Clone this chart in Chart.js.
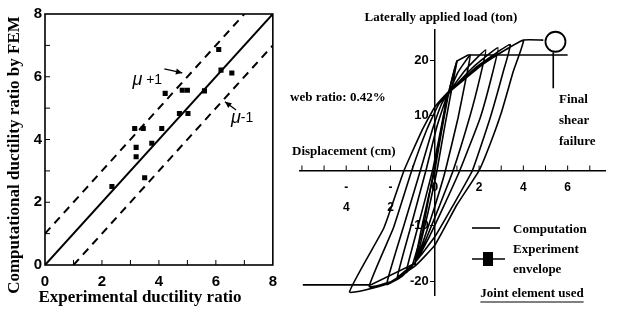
<!DOCTYPE html>
<html>
<head>
<meta charset="utf-8">
<script src="https://cdn.jsdelivr.net/npm/chart.js@4.4.1/dist/chart.umd.min.js"></script>
<style>
  body { margin: 0; background: #fff; }
  #wrap { position: relative; width: 617px; height: 315px; }
  canvas { position: absolute; top: 0; }
  #ductility { left: 0; }
  #hysteresis { left: 285px; }
</style>
</head>
<body>
<div id="wrap">
  <canvas id="ductility" width="285" height="315"></canvas>
  <canvas id="hysteresis" width="332" height="315"></canvas>
</div>
<script>
// ---------- left panel: experimental vs computed ductility ----------
const expRatio = [2.35, 3.15, 3.45, 3.2, 3.2, 4.1, 3.75, 3.5, 4.22, 4.82, 5.0, 4.72, 5.02, 5.6, 6.1, 6.18, 6.56];
const femRatio = [2.5, 4.35, 4.35, 3.45, 3.75, 4.35, 3.88, 2.78, 5.47, 5.57, 5.57, 4.83, 4.83, 5.55, 6.87, 6.21, 6.12];
const fitX = [0, 8], fitY = [0, 8];
const upperX = [0, 7], upperY = [1, 8];
const lowerX = [1, 8], lowerY = [0, 7];
const ductTicks = [0, 2, 4, 6, 8];
const ductMinor = [1, 2, 3, 4, 5, 6, 7];

// ---------- right panel: load-displacement loops ----------
const dispComp = [
  0, 0.3, 0.6, 0.85, 1.0,
  0.8, 0.45, 0.1, -0.3, -0.6, -0.9,
  -0.6, -0.3, 0, 0.3, 0.6, 1.05, 1.6,
  1.4, 1.05, 0.48, 0, -0.45, -0.87, -1.3,
  -0.75, -0.1, 0.25, 0.6, 1.4, 2.3,
  2.05, 1.6, 0.83, 0.2, -0.35, -0.87, -1.7,
  -1.1, -0.4, 0.1, 0.6, 1.7, 2.85,
  2.6, 2.05, 1.13, 0.4, -0.25, -0.87, -1.5, -2.17,
  -1.43, -0.65, -0.1, 0.3, 0.6, 1.9, 3.4,
  3.1, 2.5, 1.7, 0.8, 0, -0.87, -1.9, -2.96,
  -1.87, -1.04, -0.35, 0.15, 0.6, 2.2, 4.0,
  3.55, 3.0, 2.5, 2.0, 1.0, 0, -0.87, -2.2, -3.85,
  -2.3, -1.39, -0.57, 0, 0.6, 2.3, 4.0, 4.9
];
const loadComp = [
  0, 7, 13.5, 17.8, 19.8,
  15.5, 8, 0, -7.5, -12.5, -17,
  -10.5, -5, 0, 7, 13.5, 17.8, 20.9,
  16.5, 9.5, 0, -6.5, -12, -16.5, -18.5,
  -10, 0, 7, 13.8, 18.3, 21.8,
  17, 10, 0, -6.5, -12, -16.5, -19.6,
  -10.4, 0, 8, 13.8, 18.6, 22.2,
  17.5, 9.5, 0, -6.5, -12, -16.5, -19.2, -20.6,
  -10.4, 0, 7.5, 12, 14, 18.8, 22.8,
  18, 9.5, 0, -6.5, -12, -16.5, -20, -21,
  -10.4, 0, 7.5, 11.8, 14, 19.3, 23.6,
  18, 10.4, 4.8, 0, -6.2, -13.5, -17.2, -20.6, -22,
  -10.4, 0, 7.3, 11.5, 14.2, 19.7, 23.6, 23.6
];
const dispEnv = [-5.96, -2.9, -1.0, -0.55, 0.55, 1.0, 1.5, 6.0];
const loadEnv = [-20.7, -20.7, -17.0, -11, 13, 19.8, 20.9, 20.9];
const failDisp = [5.45], failLoad = [23.3];
const failLineX = [5.35, 5.35], failLineY = [21.4, 14.9];
const dispTicks = [-4, -2, 0, 2, 4, 6];
const dispLabels = [['-', '4'], ['-', '2'], '0', '2', '4', '6'];
const dispMinor = [-6, -5, -4, -3, -2, -1, 1, 2, 3, 4, 5, 6, 7];
const loadTicks = [-20, -10, 10, 20];

const pts = (xs, ys) => xs.map((x, i) => ({ x, y: ys[i] }));
const serif = '"Liberation Serif", "DejaVu Serif", serif';
const sans = '"Liberation Sans", Arial, sans-serif';

function arrow(ctx, x1, y1, x2, y2) {
  const a = Math.atan2(y2 - y1, x2 - x1);
  ctx.beginPath(); ctx.moveTo(x1, y1); ctx.lineTo(x2, y2); ctx.stroke();
  ctx.beginPath();
  ctx.moveTo(x2, y2);
  ctx.lineTo(x2 - 7 * Math.cos(a - 0.45), y2 - 7 * Math.sin(a - 0.45));
  ctx.lineTo(x2 - 7 * Math.cos(a + 0.45), y2 - 7 * Math.sin(a + 0.45));
  ctx.closePath(); ctx.fill();
}

// μ±1 notes, in data units
const bandNotes = [
  { sign: ' +1', x: 3.07, y: 5.9, from: [4.19, 6.25], to: [4.82, 6.12] },
  { sign: '-1', x: 6.53, y: 4.69, from: [6.71, 4.94], to: [6.32, 5.2] }
];

const ductilityDecor = {
  id: 'ductilityDecor',
  afterDraw(chart) {
    const { ctx, chartArea: a, scales: { x, y } } = chart;
    ctx.save();
    ctx.strokeStyle = '#000';
    ctx.fillStyle = '#000';
    ctx.lineWidth = 1.6;
    ctx.strokeRect(a.left, a.top, a.right - a.left, a.bottom - a.top);
    ctx.lineWidth = 1;
    ductMinor.forEach(v => {
      const px = x.getPixelForValue(v), py = y.getPixelForValue(v);
      ctx.beginPath(); ctx.moveTo(px, a.bottom); ctx.lineTo(px, a.bottom - 5); ctx.stroke();
      ctx.beginPath(); ctx.moveTo(a.left, py); ctx.lineTo(a.left + 5, py); ctx.stroke();
    });
    // notes
    ctx.lineWidth = 1.3;
    ctx.textBaseline = 'middle';
    ctx.textAlign = 'left';
    bandNotes.forEach(n => {
      const tx = x.getPixelForValue(n.x), ty = y.getPixelForValue(n.y);
      ctx.font = 'italic 18px ' + sans;
      ctx.fillText('μ', tx, ty);
      const w = ctx.measureText('μ').width;
      ctx.font = '14px ' + sans;
      ctx.fillText(n.sign, tx + w, ty);
      arrow(ctx, x.getPixelForValue(n.from[0]), y.getPixelForValue(n.from[1]),
        x.getPixelForValue(n.to[0]), y.getPixelForValue(n.to[1]));
    });
    // axis titles
    ctx.font = 'bold 17px ' + serif;
    ctx.textAlign = 'center';
    ctx.fillText('Experimental ductility ratio', 140, 298);
    ctx.translate(15, 155);
    ctx.rotate(-Math.PI / 2);
    ctx.fillText('Computational ductility ratio by FEM', 0, 0);
    ctx.restore();
  }
};

new Chart(document.getElementById('ductility'), {
  type: 'scatter',
  data: {
    datasets: [
      { data: pts(expRatio, femRatio), pointStyle: 'rect', pointRadius: 3.6, backgroundColor: '#000', borderColor: '#000', borderWidth: 0 },
      { data: pts(fitX, fitY), showLine: true, pointRadius: 0, borderColor: '#000', borderWidth: 2 },
      { data: pts(upperX, upperY), showLine: true, pointRadius: 0, borderColor: '#000', borderWidth: 2, borderDash: [8, 6] },
      { data: pts(lowerX, lowerY), showLine: true, pointRadius: 0, borderColor: '#000', borderWidth: 2, borderDash: [8, 6] }
    ]
  },
  options: {
    responsive: false,
    animation: false,
    devicePixelRatio: 1,
    layout: { padding: { top: 14, right: 11, left: 0, bottom: 0 } },
    plugins: { legend: { display: false }, tooltip: { enabled: false } },
    scales: {
      x: {
        type: 'linear', min: 0, max: 8,
        afterBuildTicks: s => { s.ticks = ductTicks.map(v => ({ value: v })); },
        afterFit: s => { s.height = 50; },
        grid: { display: false, drawTicks: false },
        border: { display: false },
        ticks: { padding: 8, color: '#000', font: { family: sans, size: 15, weight: 'bold' } }
      },
      y: {
        type: 'linear', min: 0, max: 8,
        afterBuildTicks: s => { s.ticks = ductTicks.map(v => ({ value: v })); },
        afterFit: s => { s.width = 45; },
        grid: { display: false, drawTicks: false },
        border: { display: false },
        ticks: { padding: 3, color: '#000', font: { family: sans, size: 15, weight: 'bold' } }
      }
    }
  },
  plugins: [ductilityDecor]
});

// ---------- right panel ----------
const hysteresisDecor = {
  id: 'hysteresisDecor',
  afterDraw(chart) {
    const { ctx, scales: { x, y } } = chart;
    const x0 = x.getPixelForValue(0), y0 = y.getPixelForValue(0);
    ctx.save();
    ctx.strokeStyle = '#000';
    ctx.fillStyle = '#000';
    ctx.lineWidth = 1;
    dispMinor.forEach(v => {
      const px = x.getPixelForValue(v);
      ctx.beginPath(); ctx.moveTo(px, y0); ctx.lineTo(px, y0 - 5); ctx.stroke();
    });
    ctx.font = 'bold 13px ' + sans;
    ctx.textAlign = 'right';
    ctx.textBaseline = 'middle';
    loadTicks.forEach(v => ctx.fillText(String(v), x0 - 6, y.getPixelForValue(v)));

    ctx.font = 'bold 13px ' + serif;
    ctx.textAlign = 'center';
    ctx.fillText('Laterally applied load (ton)', 156, 18);
    ctx.textAlign = 'left';
    ctx.fillText('web ratio: 0.42%', 5, 98);
    ctx.fillText('Displacement (cm)', 7, 152);
    ctx.fillText('Final', 274, 100);
    ctx.fillText('shear', 274, 121);
    ctx.fillText('failure', 274, 142);

    // legend
    ctx.lineWidth = 1.6;
    ctx.beginPath(); ctx.moveTo(187, 228); ctx.lineTo(215, 228); ctx.stroke();
    ctx.fillText('Computation', 228, 230);
    ctx.beginPath(); ctx.moveTo(187, 259); ctx.lineTo(220, 259); ctx.stroke();
    ctx.fillRect(198, 252, 10, 14);
    ctx.fillText('Experiment', 228, 250);
    ctx.fillText('envelope', 228, 270);

    ctx.textAlign = 'center';
    ctx.fillText('Joint element used', 247, 294);
    const w = ctx.measureText('Joint element used').width;
    ctx.lineWidth = 1;
    ctx.beginPath(); ctx.moveTo(247 - w / 2, 302); ctx.lineTo(247 + w / 2, 302); ctx.stroke();
    ctx.restore();
  }
};

new Chart(document.getElementById('hysteresis'), {
  type: 'scatter',
  data: {
    datasets: [
      { data: pts(dispComp, loadComp), showLine: true, tension: 0.12, pointRadius: 0, borderColor: '#000', borderWidth: 1.6, clip: false },
      { data: pts(dispEnv, loadEnv), showLine: true, pointRadius: 0, borderColor: '#000', borderWidth: 1.6, clip: false },
      { data: pts(failLineX, failLineY), showLine: true, pointRadius: 0, borderColor: '#000', borderWidth: 1.6, clip: false },
      { data: pts(failDisp, failLoad), pointStyle: 'circle', pointRadius: 10, backgroundColor: '#fff', borderColor: '#000', borderWidth: 1.8, clip: false }
    ]
  },
  options: {
    responsive: false,
    animation: false,
    devicePixelRatio: 1,
    layout: { padding: { top: 30, bottom: 20, left: 15, right: 0 } },
    plugins: { legend: { display: false }, tooltip: { enabled: false } },
    scales: {
      x: {
        type: 'linear', min: -6.087, max: 7.696,
        position: { y: 0 },
        afterBuildTicks: s => { s.ticks = dispTicks.map(v => ({ value: v })); },
        afterFit: s => { s.height = 0; },
        grid: { display: false, drawTicks: false },
        border: { display: true, color: '#000', width: 1.5 },
        ticks: {
          padding: 7.5, color: '#000',
          font: { family: sans, size: 12, weight: 'bold', lineHeight: 1.65 },
          callback: (v, i) => dispLabels[i]
        }
      },
      y: {
        type: 'linear', min: -22.53, max: 25.43,
        position: { x: 0 },
        afterBuildTicks: s => { s.ticks = loadTicks.map(v => ({ value: v })); },
        afterFit: s => { s.width = 0; },
        grid: { display: true, drawOnChartArea: false, drawTicks: true, tickLength: 4, color: '#000', lineWidth: 1 },
        border: { display: true, color: '#000', width: 1.5 },
        ticks: { display: false }
      }
    }
  },
  plugins: [hysteresisDecor]
});
</script>
</body>
</html>
